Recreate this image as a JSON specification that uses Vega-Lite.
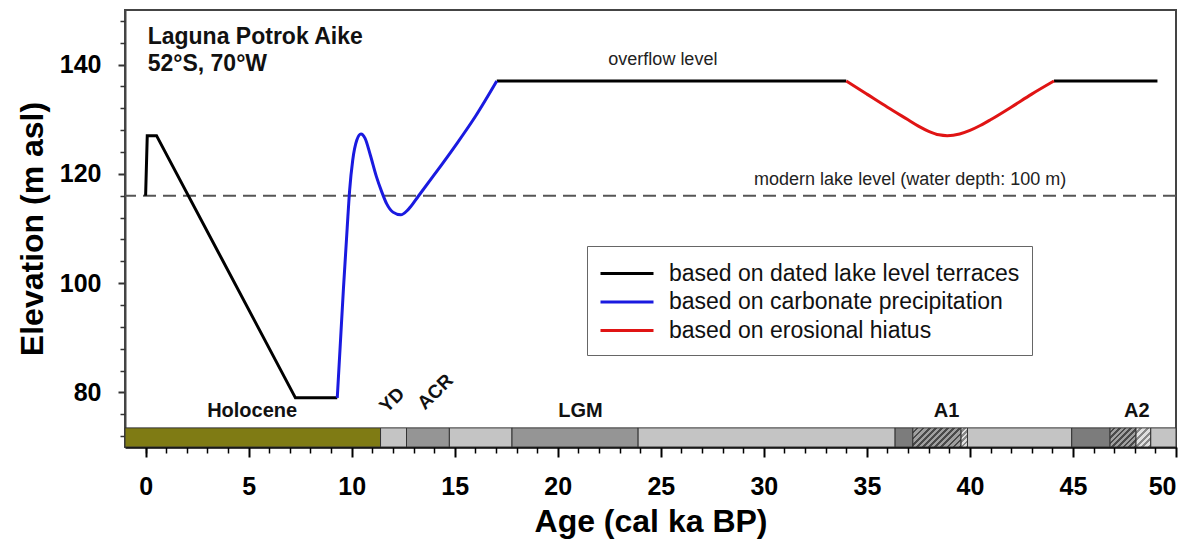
{
  "$schema": "https://vega.github.io/schema/vega-lite/v6.json",
  "width": 1051,
  "height": 437,
  "autosize": {"type": "none"},
  "padding": {"left": 125, "top": 10, "right": 24, "bottom": 93},
  "background": "white",
  "config": {"view": {"stroke": "#444", "strokeWidth": 2}, "font": "Liberation Sans"},
  "datasets": {
    "bar": [
      {"seg": "Holocene", "type": "holo", "x0": -1, "x1": 11.4},
      {"seg": "g1", "type": "light", "x0": 11.4, "x1": 12.66},
      {"seg": "ACR", "type": "check", "x0": 12.66, "x1": 14.74},
      {"seg": "g2", "type": "light", "x0": 14.74, "x1": 17.78},
      {"seg": "LGM", "type": "check", "x0": 17.78, "x1": 23.9},
      {"seg": "g3", "type": "light", "x0": 23.9, "x1": 36.37},
      {"seg": "A1d", "type": "dark", "x0": 36.37, "x1": 37.23},
      {"seg": "A1h", "type": "hatch", "x0": 37.23, "x1": 39.57},
      {"seg": "A1l", "type": "lighthatch", "x0": 39.57, "x1": 39.88},
      {"seg": "g4", "type": "light", "x0": 39.88, "x1": 44.94},
      {"seg": "A2d", "type": "dark", "x0": 44.94, "x1": 46.8},
      {"seg": "A2h", "type": "hatch", "x0": 46.8, "x1": 48.06},
      {"seg": "A2l", "type": "lighthatch", "x0": 48.06, "x1": 48.77},
      {"seg": "g5", "type": "light", "x0": 48.77, "x1": 50}
    ],
    "lines": [
      {"series": "based on dated lake level terraces", "seg": "t1", "age": 0, "elev": 116},
      {"series": "based on dated lake level terraces", "seg": "t1", "age": 0.08, "elev": 127},
      {"series": "based on dated lake level terraces", "seg": "t1", "age": 0.53, "elev": 127},
      {"series": "based on dated lake level terraces", "seg": "t1", "age": 7.27, "elev": 79},
      {"series": "based on dated lake level terraces", "seg": "t1", "age": 9.3, "elev": 79},
      {"series": "based on dated lake level terraces", "seg": "t2", "age": 17.04, "elev": 137},
      {"series": "based on dated lake level terraces", "seg": "t2", "age": 34, "elev": 137},
      {"series": "based on dated lake level terraces", "seg": "t3", "age": 44.08, "elev": 137},
      {"series": "based on dated lake level terraces", "seg": "t3", "age": 49.1, "elev": 137},
      {"series": "based on carbonate precipitation", "seg": "c1", "age": 9.3, "elev": 79},
      {"series": "based on carbonate precipitation", "seg": "c1", "age": 9.45, "elev": 89},
      {"series": "based on carbonate precipitation", "seg": "c1", "age": 9.6, "elev": 99},
      {"series": "based on carbonate precipitation", "seg": "c1", "age": 9.78, "elev": 110},
      {"series": "based on carbonate precipitation", "seg": "c1", "age": 9.9, "elev": 117},
      {"series": "based on carbonate precipitation", "seg": "c1", "age": 10.05, "elev": 122.5},
      {"series": "based on carbonate precipitation", "seg": "c1", "age": 10.25, "elev": 126.2},
      {"series": "based on carbonate precipitation", "seg": "c1", "age": 10.45, "elev": 127.3},
      {"series": "based on carbonate precipitation", "seg": "c1", "age": 10.65, "elev": 126.5},
      {"series": "based on carbonate precipitation", "seg": "c1", "age": 10.9, "elev": 123.5},
      {"series": "based on carbonate precipitation", "seg": "c1", "age": 11.2, "elev": 119.5},
      {"series": "based on carbonate precipitation", "seg": "c1", "age": 11.45, "elev": 116.8},
      {"series": "based on carbonate precipitation", "seg": "c1", "age": 11.7, "elev": 114.5},
      {"series": "based on carbonate precipitation", "seg": "c1", "age": 12.0, "elev": 113},
      {"series": "based on carbonate precipitation", "seg": "c1", "age": 12.38, "elev": 112.5},
      {"series": "based on carbonate precipitation", "seg": "c1", "age": 12.75, "elev": 113.5},
      {"series": "based on carbonate precipitation", "seg": "c1", "age": 13.25, "elev": 116},
      {"series": "based on carbonate precipitation", "seg": "c1", "age": 14.0, "elev": 119.8},
      {"series": "based on carbonate precipitation", "seg": "c1", "age": 15.0, "elev": 125},
      {"series": "based on carbonate precipitation", "seg": "c1", "age": 16.0, "elev": 130.5},
      {"series": "based on carbonate precipitation", "seg": "c1", "age": 17.04, "elev": 137},
      {"series": "based on erosional hiatus", "seg": "e1", "age": 34, "elev": 137},
      {"series": "based on erosional hiatus", "seg": "e1", "age": 35, "elev": 134.6},
      {"series": "based on erosional hiatus", "seg": "e1", "age": 36, "elev": 132.2},
      {"series": "based on erosional hiatus", "seg": "e1", "age": 37, "elev": 129.9},
      {"series": "based on erosional hiatus", "seg": "e1", "age": 37.5, "elev": 128.75},
      {"series": "based on erosional hiatus", "seg": "e1", "age": 38, "elev": 127.8},
      {"series": "based on erosional hiatus", "seg": "e1", "age": 38.5, "elev": 127.15},
      {"series": "based on erosional hiatus", "seg": "e1", "age": 38.9, "elev": 127.0},
      {"series": "based on erosional hiatus", "seg": "e1", "age": 39.5, "elev": 127.3},
      {"series": "based on erosional hiatus", "seg": "e1", "age": 40, "elev": 127.95},
      {"series": "based on erosional hiatus", "seg": "e1", "age": 40.5, "elev": 128.85},
      {"series": "based on erosional hiatus", "seg": "e1", "age": 41, "elev": 129.9},
      {"series": "based on erosional hiatus", "seg": "e1", "age": 42, "elev": 132.2},
      {"series": "based on erosional hiatus", "seg": "e1", "age": 43, "elev": 134.6},
      {"series": "based on erosional hiatus", "seg": "e1", "age": 44.08, "elev": 137}
    ],
    "labels": [
      {"t": "Holocene", "x": 5.17, "y": 76.6, "k": "period"},
      {"t": "LGM", "x": 21.1, "y": 76.6, "k": "period"},
      {"t": "A1", "x": 38.87, "y": 76.6, "k": "period"},
      {"t": "A2", "x": 48.1, "y": 76.6, "k": "period"},
      {"t": "YD", "x": 11.96, "y": 78.6, "k": "rot"},
      {"t": "ACR", "x": 14.06, "y": 80.1, "k": "rot"},
      {"t": "Laguna Potrok Aike", "x": 0.1, "y": 145.1, "k": "site"},
      {"t": "52°S, 70°W", "x": 0.1, "y": 140.1, "k": "site"},
      {"t": "overflow level", "x": 25.1, "y": 140.85, "k": "note"},
      {"t": "modern lake level (water depth: 100 m)", "x": 37.1, "y": 118.9, "k": "note"}
    ]
  },
  "layer": [
    {
      "data": {"name": "bar"},
      "transform": [{"filter": "datum.type == 'holo' || datum.type == 'light' || datum.type == 'check' || datum.type == 'dark'"}],
      "mark": {"type": "rect", "stroke": "#333", "strokeWidth": 1},
      "encoding": {
        "x": {"field": "x0", "type": "quantitative", "scale": {"domain": [-1, 50], "nice": false, "zero": false},
          "axis": {"values": [0, 5, 10, 15, 20, 25, 30, 35, 40, 45, 50], "tickSize": 10, "tickWidth": 2, "tickColor": "black",
            "labelFontSize": 25, "labelFontWeight": "bold", "labelColor": "black", "labelPadding": 17, "labelFont": "Liberation Sans",
            "title": "Age (cal ka BP)", "titleFontSize": 32, "titleFontWeight": "bold", "titleColor": "black", "titlePadding": 7, "titleFont": "Liberation Sans",
            "domainColor": "black", "domainWidth": 2.5, "grid": false, "orient": "bottom"}},
        "x2": {"field": "x1"},
        "y": {"datum": 70, "type": "quantitative", "scale": {"domain": [70, 150], "nice": false, "zero": false}, "axis": null},
        "y2": {"datum": 73.5},
        "fill": {"field": "type", "type": "nominal", "scale": {"domain": ["holo", "light", "check", "dark"], "range": ["#7f7b14", "#c4c4c4", "#959595", "#7c7c7c"]}, "legend": null}
      }
    },
    {
      "data": {"name": "bar"},
      "transform": [{"filter": "datum.seg == 'A1h'"}],
      "mark": {"type": "rect", "stroke": "#333", "strokeWidth": 1,
        "fill": {"gradient": "linear", "x1": 0, "y1": 0, "x2": 1.207, "y2": 0.478, "stops": [
          {"offset": 0, "color": "#a0a0a0"}, {"offset": 0.05, "color": "#a0a0a0"}, {"offset": 0.05, "color": "#4a4a4a"}, {"offset": 0.0909, "color": "#4a4a4a"},
          {"offset": 0.0909, "color": "#a0a0a0"}, {"offset": 0.1409, "color": "#a0a0a0"}, {"offset": 0.1409, "color": "#4a4a4a"}, {"offset": 0.1818, "color": "#4a4a4a"},
          {"offset": 0.1818, "color": "#a0a0a0"}, {"offset": 0.2318, "color": "#a0a0a0"}, {"offset": 0.2318, "color": "#4a4a4a"}, {"offset": 0.2727, "color": "#4a4a4a"},
          {"offset": 0.2727, "color": "#a0a0a0"}, {"offset": 0.3227, "color": "#a0a0a0"}, {"offset": 0.3227, "color": "#4a4a4a"}, {"offset": 0.3636, "color": "#4a4a4a"},
          {"offset": 0.3636, "color": "#a0a0a0"}, {"offset": 0.4136, "color": "#a0a0a0"}, {"offset": 0.4136, "color": "#4a4a4a"}, {"offset": 0.4545, "color": "#4a4a4a"},
          {"offset": 0.4545, "color": "#a0a0a0"}, {"offset": 0.5045, "color": "#a0a0a0"}, {"offset": 0.5045, "color": "#4a4a4a"}, {"offset": 0.5455, "color": "#4a4a4a"},
          {"offset": 0.5455, "color": "#a0a0a0"}, {"offset": 0.5955, "color": "#a0a0a0"}, {"offset": 0.5955, "color": "#4a4a4a"}, {"offset": 0.6364, "color": "#4a4a4a"},
          {"offset": 0.6364, "color": "#a0a0a0"}, {"offset": 0.6864, "color": "#a0a0a0"}, {"offset": 0.6864, "color": "#4a4a4a"}, {"offset": 0.7273, "color": "#4a4a4a"},
          {"offset": 0.7273, "color": "#a0a0a0"}, {"offset": 0.7773, "color": "#a0a0a0"}, {"offset": 0.7773, "color": "#4a4a4a"}, {"offset": 0.8182, "color": "#4a4a4a"},
          {"offset": 0.8182, "color": "#a0a0a0"}, {"offset": 0.8682, "color": "#a0a0a0"}, {"offset": 0.8682, "color": "#4a4a4a"}, {"offset": 0.9091, "color": "#4a4a4a"},
          {"offset": 0.9091, "color": "#a0a0a0"}, {"offset": 0.9591, "color": "#a0a0a0"}, {"offset": 0.9591, "color": "#4a4a4a"}, {"offset": 1, "color": "#4a4a4a"}
        ]}},
      "encoding": {
        "x": {"field": "x0", "type": "quantitative", "scale": {"domain": [-1, 50], "nice": false, "zero": false}, "axis": null},
        "x2": {"field": "x1"},
        "y": {"datum": 70, "type": "quantitative", "scale": {"domain": [70, 150], "nice": false, "zero": false}, "axis": null},
        "y2": {"datum": 73.5}
      }
    },
    {
      "data": {"name": "bar"},
      "transform": [{"filter": "datum.seg == 'A2h'"}],
      "mark": {"type": "rect", "stroke": "#333", "strokeWidth": 1,
        "fill": {"gradient": "linear", "x1": 0, "y1": 0, "x2": 1.127, "y2": 0.828, "stops": [
          {"offset": 0, "color": "#a0a0a0"}, {"offset": 0.06875, "color": "#a0a0a0"}, {"offset": 0.06875, "color": "#4a4a4a"}, {"offset": 0.125, "color": "#4a4a4a"},
          {"offset": 0.125, "color": "#a0a0a0"}, {"offset": 0.19375, "color": "#a0a0a0"}, {"offset": 0.19375, "color": "#4a4a4a"}, {"offset": 0.25, "color": "#4a4a4a"},
          {"offset": 0.25, "color": "#a0a0a0"}, {"offset": 0.31875, "color": "#a0a0a0"}, {"offset": 0.31875, "color": "#4a4a4a"}, {"offset": 0.375, "color": "#4a4a4a"},
          {"offset": 0.375, "color": "#a0a0a0"}, {"offset": 0.44375, "color": "#a0a0a0"}, {"offset": 0.44375, "color": "#4a4a4a"}, {"offset": 0.5, "color": "#4a4a4a"},
          {"offset": 0.5, "color": "#a0a0a0"}, {"offset": 0.56875, "color": "#a0a0a0"}, {"offset": 0.56875, "color": "#4a4a4a"}, {"offset": 0.625, "color": "#4a4a4a"},
          {"offset": 0.625, "color": "#a0a0a0"}, {"offset": 0.69375, "color": "#a0a0a0"}, {"offset": 0.69375, "color": "#4a4a4a"}, {"offset": 0.75, "color": "#4a4a4a"},
          {"offset": 0.75, "color": "#a0a0a0"}, {"offset": 0.81875, "color": "#a0a0a0"}, {"offset": 0.81875, "color": "#4a4a4a"}, {"offset": 0.875, "color": "#4a4a4a"},
          {"offset": 0.875, "color": "#a0a0a0"}, {"offset": 0.94375, "color": "#a0a0a0"}, {"offset": 0.94375, "color": "#4a4a4a"}, {"offset": 1, "color": "#4a4a4a"}
        ]}},
      "encoding": {
        "x": {"field": "x0", "type": "quantitative", "scale": {"domain": [-1, 50], "nice": false, "zero": false}, "axis": null},
        "x2": {"field": "x1"},
        "y": {"datum": 70, "type": "quantitative", "scale": {"domain": [70, 150], "nice": false, "zero": false}, "axis": null},
        "y2": {"datum": 73.5}
      }
    },
    {
      "data": {"name": "bar"},
      "transform": [{"filter": "datum.seg == 'A1l'"}],
      "mark": {"type": "rect", "stroke": "#333", "strokeWidth": 1,
        "fill": {"gradient": "linear", "x1": 0, "y1": 0, "x2": 0.403, "y2": 1.2, "stops": [
          {"offset": 0, "color": "#e0e0e0"}, {"offset": 0.11, "color": "#e0e0e0"}, {"offset": 0.11, "color": "#888888"}, {"offset": 0.2, "color": "#888888"},
          {"offset": 0.2, "color": "#e0e0e0"}, {"offset": 0.31, "color": "#e0e0e0"}, {"offset": 0.31, "color": "#888888"}, {"offset": 0.4, "color": "#888888"},
          {"offset": 0.4, "color": "#e0e0e0"}, {"offset": 0.51, "color": "#e0e0e0"}, {"offset": 0.51, "color": "#888888"}, {"offset": 0.6, "color": "#888888"},
          {"offset": 0.6, "color": "#e0e0e0"}, {"offset": 0.71, "color": "#e0e0e0"}, {"offset": 0.71, "color": "#888888"}, {"offset": 0.8, "color": "#888888"},
          {"offset": 0.8, "color": "#e0e0e0"}, {"offset": 0.91, "color": "#e0e0e0"}, {"offset": 0.91, "color": "#888888"}, {"offset": 1, "color": "#888888"}
        ]}},
      "encoding": {
        "x": {"field": "x0", "type": "quantitative", "scale": {"domain": [-1, 50], "nice": false, "zero": false}, "axis": null},
        "x2": {"field": "x1"},
        "y": {"datum": 70, "type": "quantitative", "scale": {"domain": [70, 150], "nice": false, "zero": false}, "axis": null},
        "y2": {"datum": 73.5}
      }
    },
    {
      "data": {"name": "bar"},
      "transform": [{"filter": "datum.seg == 'A2l'"}],
      "mark": {"type": "rect", "stroke": "#333", "strokeWidth": 1,
        "fill": {"gradient": "linear", "x1": 0, "y1": 0, "x2": 0.851, "y2": 1.113, "stops": [
          {"offset": 0, "color": "#e0e0e0"}, {"offset": 0.11, "color": "#e0e0e0"}, {"offset": 0.11, "color": "#888888"}, {"offset": 0.2, "color": "#888888"},
          {"offset": 0.2, "color": "#e0e0e0"}, {"offset": 0.31, "color": "#e0e0e0"}, {"offset": 0.31, "color": "#888888"}, {"offset": 0.4, "color": "#888888"},
          {"offset": 0.4, "color": "#e0e0e0"}, {"offset": 0.51, "color": "#e0e0e0"}, {"offset": 0.51, "color": "#888888"}, {"offset": 0.6, "color": "#888888"},
          {"offset": 0.6, "color": "#e0e0e0"}, {"offset": 0.71, "color": "#e0e0e0"}, {"offset": 0.71, "color": "#888888"}, {"offset": 0.8, "color": "#888888"},
          {"offset": 0.8, "color": "#e0e0e0"}, {"offset": 0.91, "color": "#e0e0e0"}, {"offset": 0.91, "color": "#888888"}, {"offset": 1, "color": "#888888"}
        ]}},
      "encoding": {
        "x": {"field": "x0", "type": "quantitative", "scale": {"domain": [-1, 50], "nice": false, "zero": false}, "axis": null},
        "x2": {"field": "x1"},
        "y": {"datum": 70, "type": "quantitative", "scale": {"domain": [70, 150], "nice": false, "zero": false}, "axis": null},
        "y2": {"datum": 73.5}
      }
    },
    {
      "data": {"values": [{"level": 116}]},
      "mark": {"type": "rule", "strokeDash": [13, 7], "color": "#555", "strokeWidth": 2},
      "encoding": {"y": {"field": "level", "type": "quantitative", "scale": {"domain": [70, 150], "nice": false, "zero": false}, "axis": null}}
    },
    {
      "data": {"name": "lines"},
      "transform": [{"filter": "datum.seg == 't1' || datum.seg == 't2' || datum.seg == 't3'"}],
      "mark": {"type": "line", "strokeWidth": 3, "strokeJoin": "miter"},
      "encoding": {
        "x": {"field": "age", "type": "quantitative", "scale": {"domain": [-1, 50], "nice": false, "zero": false},
          "axis": {"values": [0, 1, 2, 3, 4, 6, 7, 8, 9, 11, 12, 13, 14, 16, 17, 18, 19, 21, 22, 23, 24, 26, 27, 28, 29, 31, 32, 33, 34, 36, 37, 38, 39, 41, 42, 43, 44, 46, 47, 48, 49], "labels": false, "tickSize": 6, "tickWidth": 1.5, "tickColor": "black", "domain": false, "grid": false, "title": null, "orient": "bottom"}},
        "y": {"field": "elev", "type": "quantitative", "scale": {"domain": [70, 150], "nice": false, "zero": false},
          "axis": {"values": [80, 100, 120, 140], "tickSize": 7, "tickWidth": 2, "tickColor": "#333",
            "labelFontSize": 25, "labelFontWeight": "bold", "labelColor": "black", "labelPadding": 17, "labelFont": "Liberation Sans",
            "title": "Elevation (m asl)", "titleFontSize": 32, "titleFontWeight": "bold", "titleColor": "black", "titlePadding": 10, "titleFont": "Liberation Sans",
            "domainColor": "#444", "domainWidth": 2, "grid": false, "orient": "left"}},
        "detail": {"field": "seg"},
        "color": {"field": "series", "type": "nominal",
          "scale": {"domain": ["based on dated lake level terraces", "based on carbonate precipitation", "based on erosional hiatus"], "range": ["#000000", "#1a1ae0", "#e01414"]},
          "legend": {"orient": "none", "legendX": 462, "legendY": 236, "title": null, "symbolType": "M-1,0H2.786", "symbolSize": 784, "symbolStrokeWidth": 3,
            "labelFontSize": 23, "labelFont": "Liberation Sans", "labelColor": "#111", "labelLimit": 600, "labelOffset": 39, "padding": 12, "rowPadding": 0.5,
            "strokeColor": "#666", "fillColor": "white"}}
      }
    },
    {
      "data": {"name": "lines"},
      "transform": [{"filter": "datum.seg == 'c1' || datum.seg == 'e1'"}],
      "mark": {"type": "line", "strokeWidth": 3, "interpolate": "monotone"},
      "encoding": {
        "x": {"field": "age", "type": "quantitative", "scale": {"domain": [-1, 50], "nice": false, "zero": false}, "axis": null},
        "y": {"field": "elev", "type": "quantitative", "scale": {"domain": [70, 150], "nice": false, "zero": false},
          "axis": {"values": [72, 76, 84, 88, 92, 96, 104, 108, 112, 116, 124, 128, 132, 136, 144, 148], "labels": false, "tickSize": 5, "tickWidth": 1.5, "tickColor": "#333", "domain": false, "grid": false, "title": null, "orient": "left"}},
        "detail": {"field": "seg"},
        "color": {"field": "series", "type": "nominal"}
      }
    },
    {
      "data": {"name": "labels"},
      "transform": [{"filter": "datum.k == 'period'"}],
      "mark": {"type": "text", "fontSize": 20, "fontWeight": "bold", "font": "Liberation Sans", "align": "center", "baseline": "middle", "color": "#111"},
      "encoding": {
        "x": {"field": "x", "type": "quantitative", "scale": {"domain": [-1, 50], "nice": false, "zero": false}, "axis": null},
        "y": {"field": "y", "type": "quantitative", "scale": {"domain": [70, 150], "nice": false, "zero": false}, "axis": null},
        "text": {"field": "t"}
      }
    },
    {
      "data": {"name": "labels"},
      "transform": [{"filter": "datum.k == 'rot'"}],
      "mark": {"type": "text", "fontSize": 19, "fontWeight": "bold", "font": "Liberation Sans", "align": "center", "baseline": "middle", "angle": 315, "color": "#111"},
      "encoding": {
        "x": {"field": "x", "type": "quantitative", "scale": {"domain": [-1, 50], "nice": false, "zero": false}, "axis": null},
        "y": {"field": "y", "type": "quantitative", "scale": {"domain": [70, 150], "nice": false, "zero": false}, "axis": null},
        "text": {"field": "t"}
      }
    },
    {
      "data": {"name": "labels"},
      "transform": [{"filter": "datum.k == 'site'"}],
      "mark": {"type": "text", "fontSize": 23, "fontWeight": "bold", "font": "Liberation Sans", "align": "left", "baseline": "middle", "color": "#111"},
      "encoding": {
        "x": {"field": "x", "type": "quantitative", "scale": {"domain": [-1, 50], "nice": false, "zero": false}, "axis": null},
        "y": {"field": "y", "type": "quantitative", "scale": {"domain": [70, 150], "nice": false, "zero": false}, "axis": null},
        "text": {"field": "t"}
      }
    },
    {
      "data": {"name": "labels"},
      "transform": [{"filter": "datum.k == 'note'"}],
      "mark": {"type": "text", "fontSize": 18, "font": "Liberation Sans", "align": "center", "baseline": "middle", "color": "#222"},
      "encoding": {
        "x": {"field": "x", "type": "quantitative", "scale": {"domain": [-1, 50], "nice": false, "zero": false}, "axis": null},
        "y": {"field": "y", "type": "quantitative", "scale": {"domain": [70, 150], "nice": false, "zero": false}, "axis": null},
        "text": {"field": "t"}
      }
    }
  ],
  "resolve": {"axis": {"x": "independent", "y": "independent"}}
}
